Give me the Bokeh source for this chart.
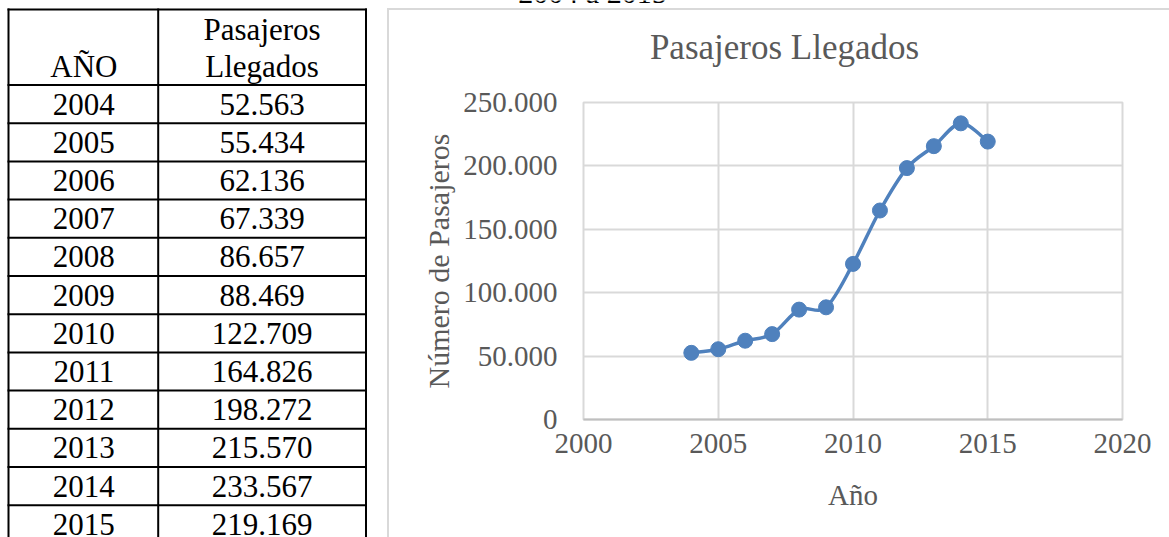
from bokeh.plotting import figure
from bokeh.models import Range1d, FixedTicker, CustomJSTickFormatter
from bokeh.core.properties import value
from bokeh.embed import file_html
from bokeh.resources import INLINE

# ---------------- data ----------------
years = [2004, 2005, 2006, 2007, 2008, 2009, 2010, 2011, 2012, 2013, 2014, 2015]
passengers = [52563, 55434, 62136, 67339, 86657, 88469, 122709, 164826,
              198272, 215570, 233567, 219169]
header_year = "AÑO"
header_value = ["Pasajeros", "Llegados"]
caption = "2004 a 2015"
chart_title = "Pasajeros Llegados"
x_label = "Año"
y_label = "Número de Pasajeros"
x_ticks = [2000, 2005, 2010, 2015, 2020]
y_ticks = [0, 50000, 100000, 150000, 200000, 250000]

SERIF = "Liberation Serif"
BLUE = "#4F81BD"
GREY_TXT = "#595959"
GRID = "#D9D9D9"

W, H = 1169, 537
SHIFT_PER_PX = 11.5 / 31   # compensation for the text baseline placement

# ---------------- page background: table + chart box ----------------
t = figure(width=W, height=H, x_range=Range1d(0, W), y_range=Range1d(H, 0),
           x_axis_type=None, y_axis_type=None, output_backend="svg",
           toolbar_location=None, min_border=0, outline_line_color=None)
t.grid.visible = False

col_x = [8, 157.7, 365.5]
top_y = 9
head_y = 84.5
row_h = 38.2
n = len(years)
h_lines = [top_y] + [head_y + k * row_h for k in range(n + 1)]
t.segment(x0=[col_x[0] - 1] * len(h_lines), y0=h_lines,
          x1=[col_x[-1] + 1] * len(h_lines), y1=h_lines,
          line_color="black", line_width=2)
t.segment(x0=col_x, y0=[top_y - 1] * 3, x1=col_x, y1=[H + 10] * 3,
          line_color="black", line_width=2)

s31 = 31 * SHIFT_PER_PX
c1x = (col_x[0] + col_x[1]) / 2 + 0.5
c2x = (col_x[1] + col_x[2]) / 2
row_base = [head_y + k * row_h + 30.5 - s31 for k in range(n)]
t.text(x=[c1x] * n, y=row_base, text=[str(y) for y in years],
       text_font=value(SERIF), text_font_size="31px", text_align="center",
       text_baseline="alphabetic", text_color="black")
t.text(x=[c2x] * n, y=row_base, text=[f"{v:,}".replace(",", ".") for v in passengers],
       text_font=value(SERIF), text_font_size="31px", text_align="center",
       text_baseline="alphabetic", text_color="black")
t.text(x=[c1x, c2x, c2x], y=[77 - s31, 40 - s31, 77 - s31],
       text=[header_year] + header_value,
       text_font=value(SERIF), text_font_size="31px", text_align="center",
       text_baseline="alphabetic", text_color="black")

# caption cut off at the top of the page
t.text(x=[592], y=[3 - 30 * SHIFT_PER_PX], text=[caption], text_font=value(SERIF),
       text_font_size="30px", text_align="center", text_baseline="alphabetic",
       text_color="black")

# chart area border (left and top edges)
t.segment(x0=[387.5, 386.5], y0=[7.5, 8.5], x1=[387.5, W + 5], y1=[H + 5, 8.5],
          line_color=GRID, line_width=2)

# chart title (centred on the chart area)
t.text(x=[784], y=[60 - 35 * SHIFT_PER_PX], text=[chart_title], text_font=value(SERIF),
       text_font_size="35px", text_align="center", text_baseline="alphabetic",
       text_color=GREY_TXT)

# ---------------- chart ----------------
CX, CY = 389, 10
c = figure(width=W - CX, height=H - CY, x_range=Range1d(2000, 2020), y_range=Range1d(0, 250000),
           output_backend="svg", toolbar_location=None,
           min_border_left=194, min_border_right=47, min_border_top=92, min_border_bottom=118,
           outline_line_color=GRID, outline_line_width=2, border_fill_color=None,
           styles={"position": "absolute", "left": f"{CX}px", "top": f"{CY}px"})

c.xaxis.ticker = FixedTicker(ticks=x_ticks)
c.yaxis.ticker = FixedTicker(ticks=y_ticks)
c.xgrid.ticker = FixedTicker(ticks=x_ticks)
c.ygrid.ticker = FixedTicker(ticks=y_ticks)
c.grid.grid_line_color = GRID
c.grid.grid_line_width = 2
c.yaxis.formatter = CustomJSTickFormatter(
    code=r"return Math.round(tick).toString().replace(/\B(?=(\d{3})+(?!\d))/g, '.');")

for ax in (c.xaxis[0], c.yaxis[0]):
    ax.major_tick_line_color = None
    ax.minor_tick_line_color = None
    ax.major_tick_in = 0
    ax.major_tick_out = 0
    ax.minor_tick_in = 0
    ax.minor_tick_out = 0
    ax.major_label_text_font = SERIF
    ax.major_label_text_font_size = "29px"
    ax.major_label_text_color = GREY_TXT
    ax.axis_label_text_font = SERIF
    ax.axis_label_text_font_size = "29px"
    ax.axis_label_text_font_style = "normal"
    ax.axis_label_text_color = GREY_TXT

c.yaxis.axis_label_text_font_size = "30px"
c.xaxis.axis_label = x_label
c.yaxis.axis_label = y_label
c.xaxis.axis_line_color = "#BFBFBF"
c.xaxis.axis_line_width = 2
c.yaxis.axis_line_color = None
c.xaxis.major_label_standoff = 14
c.xaxis.axis_label_standoff = 23
c.yaxis.major_label_standoff = 26
c.yaxis.axis_label_standoff = 5

# smoothed line (Catmull-Rom -> cubic Bezier, from the data points)
bx0, by0, bx1, by1, cx0, cy0, cx1, cy1 = ([] for _ in range(8))
for i in range(n - 1):
    p0 = i - 1 if i > 0 else i
    p3 = i + 2 if i + 2 < n else i + 1
    bx0.append(years[i]); by0.append(passengers[i])
    bx1.append(years[i + 1]); by1.append(passengers[i + 1])
    cx0.append(years[i] + (years[i + 1] - years[p0]) / 6)
    cy0.append(passengers[i] + (passengers[i + 1] - passengers[p0]) / 6)
    cx1.append(years[i + 1] - (years[p3] - years[i]) / 6)
    cy1.append(passengers[i + 1] - (passengers[p3] - passengers[i]) / 6)
c.bezier(x0=bx0, y0=by0, x1=bx1, y1=by1, cx0=cx0, cy0=cy0, cx1=cx1, cy1=cy1,
         line_color=BLUE, line_width=3.5, line_cap="round")
c.scatter(x=years, y=passengers, size=15, color=BLUE)

open("out.html", "w").write(file_html([t, c], INLINE, title="Pasajeros Llegados"))
